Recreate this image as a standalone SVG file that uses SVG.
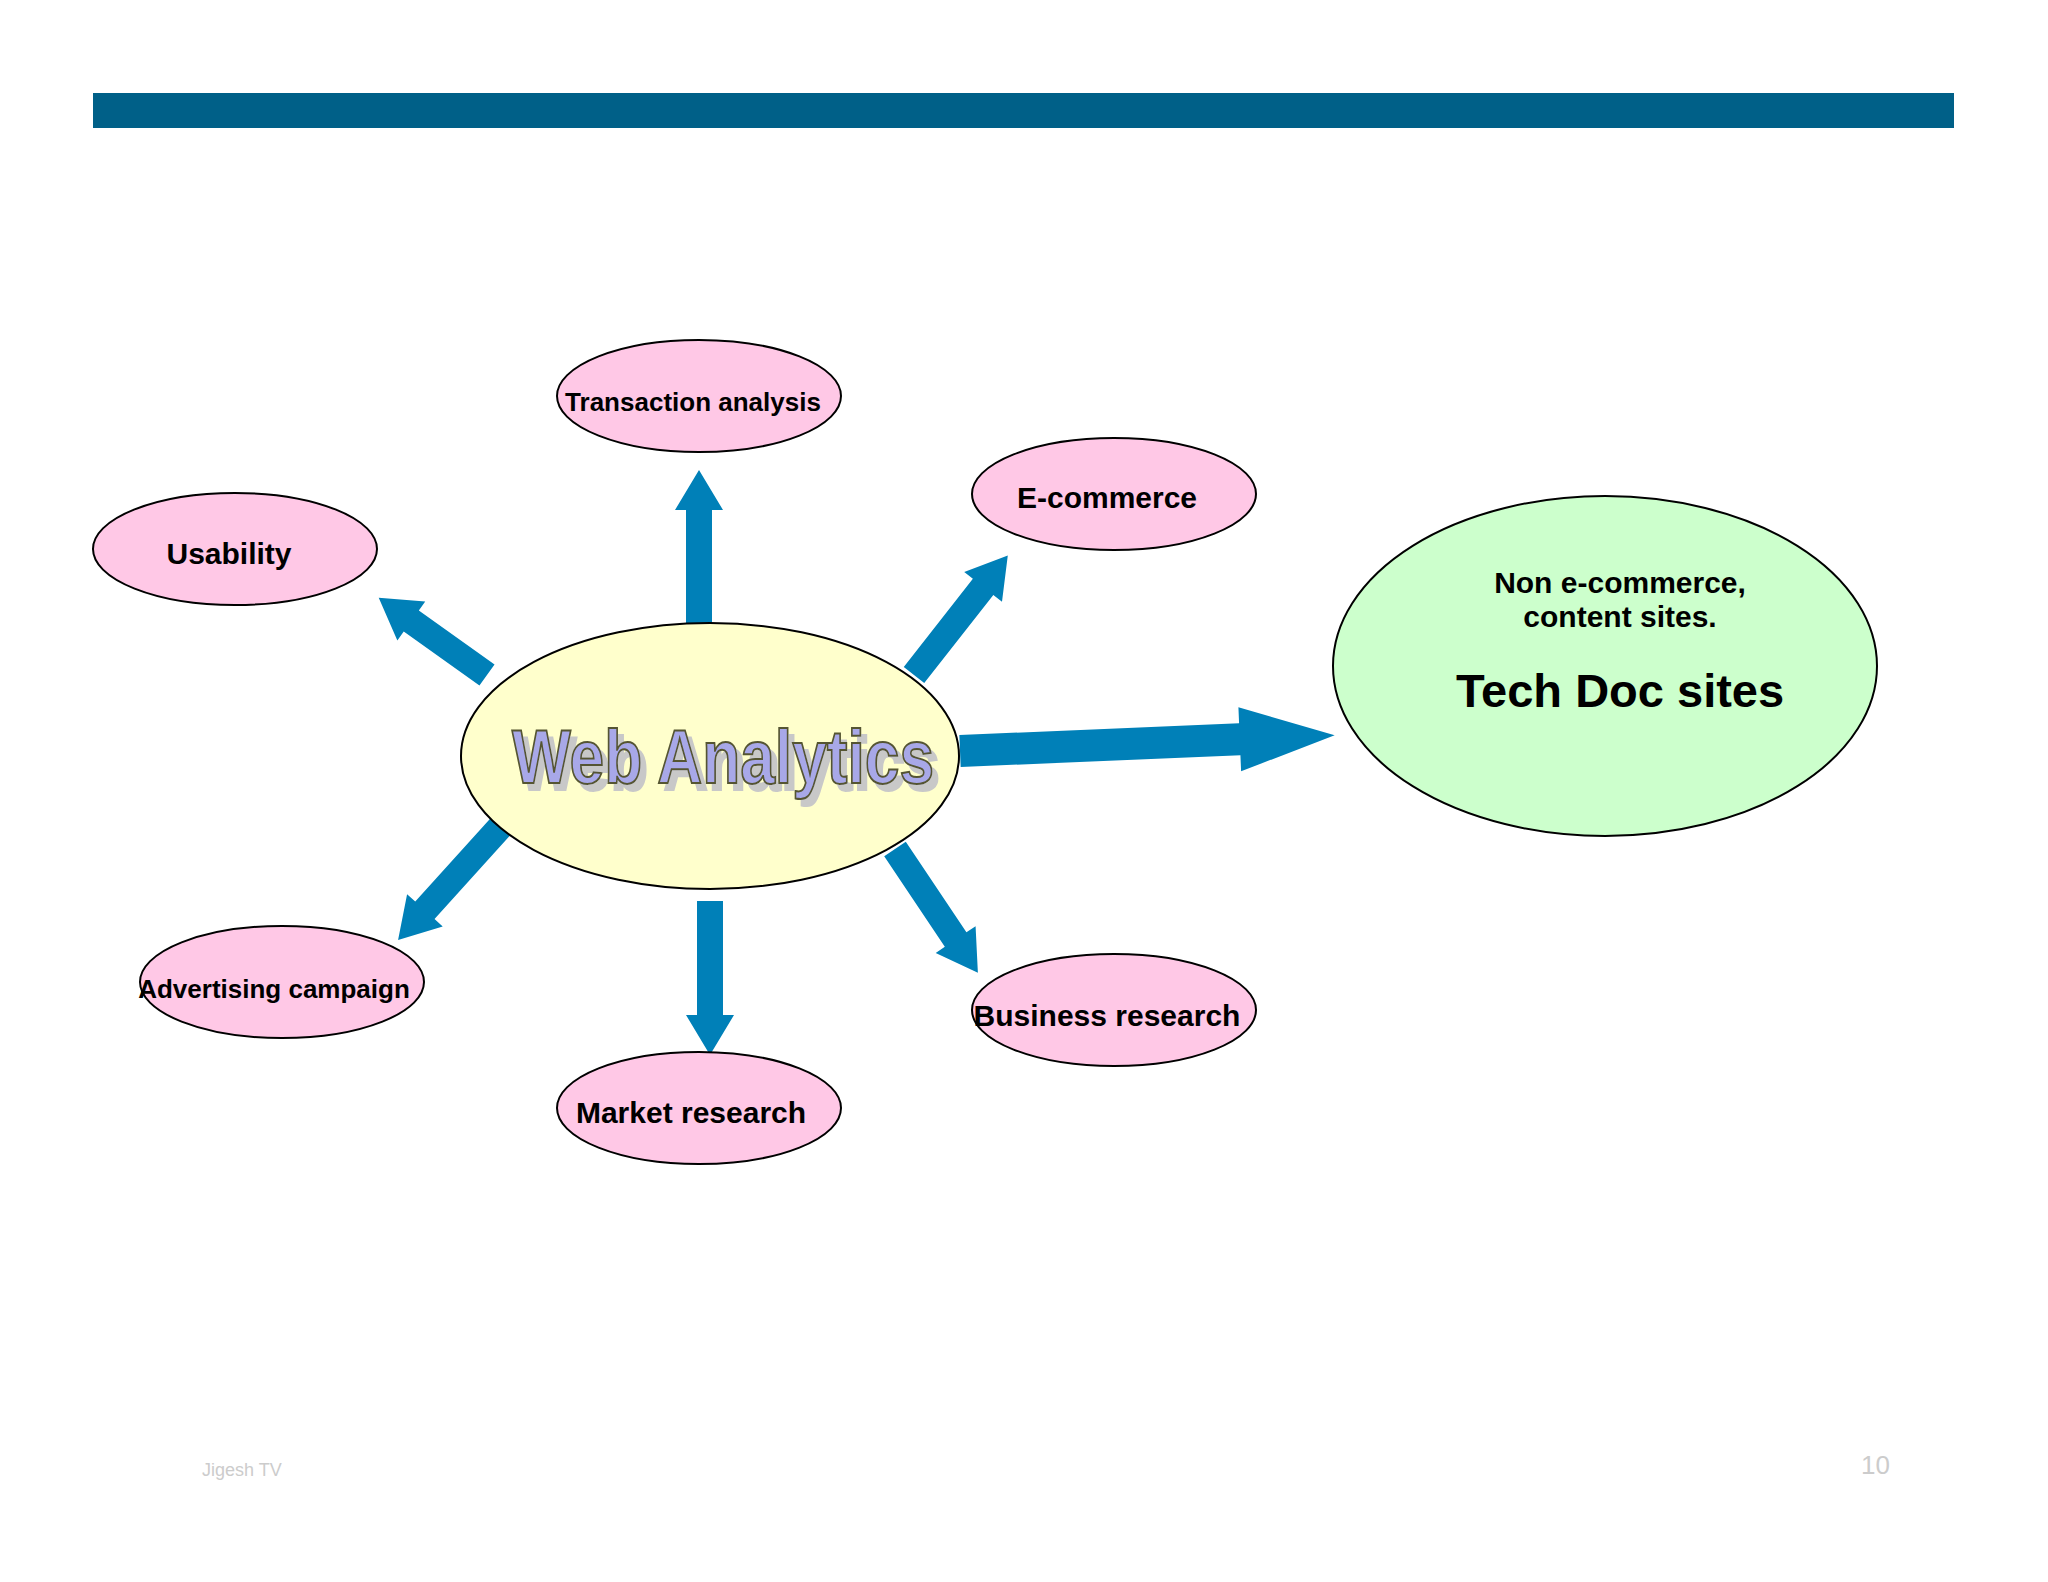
<svg xmlns="http://www.w3.org/2000/svg" width="2048" height="1582" viewBox="0 0 2048 1582">
<style>
.pink{fill:#ffc8e6;stroke:#000;stroke-width:2}
.lbl{font-family:"Liberation Sans",Arial,sans-serif;font-weight:bold;fill:#000;text-anchor:middle}
.arr{fill:#0080b8}
.wa{font-family:"Liberation Sans",Arial,sans-serif;font-weight:bold;font-size:76px}
</style>
<defs>
<filter id="shadow" x="-10%" y="-20%" width="130%" height="160%">
<feOffset in="SourceAlpha" dx="6" dy="7" result="off"/>
<feFlood flood-color="#c8c8c8"/>
<feComposite in2="off" operator="in" result="sh"/>
<feMerge><feMergeNode in="sh"/><feMergeNode in="SourceGraphic"/></feMerge>
</filter>
</defs>
<rect width="2048" height="1582" fill="#fff"/>
<rect x="93" y="93" width="1861" height="35" fill="#006088"/>
<g id="connectors" class="arr">
<g transform="translate(699,624) rotate(-90)"><polygon points="0,-13 114,-13 114,-24 154,0 114,24 114,13 0,13"/></g>
<g transform="translate(914,675) rotate(-51.9)"><polygon points="0,-13 112,-13 112,-24 152,0 112,24 112,13 0,13"/></g>
<g transform="translate(487,675) rotate(-144.5)"><polygon points="0,-13 93,-13 93,-24 133,0 93,24 93,13 0,13"/></g>
<g transform="translate(502,825) rotate(132.1)"><polygon points="0,-13 115,-13 115,-24 155,0 115,24 115,13 0,13"/></g>
<g transform="translate(710,901) rotate(90)"><polygon points="0,-13 114,-13 114,-24 154,0 114,24 114,13 0,13"/></g>
<g transform="translate(895,849) rotate(56.2)"><polygon points="0,-13 109,-13 109,-24 149,0 109,24 109,13 0,13"/></g>
<g transform="translate(960,751) rotate(-2.4)"><polygon points="0,-16 280,-16 280,-32 375,0 280,32 280,16 0,16"/></g>
</g>
<g id="center">
<ellipse cx="710" cy="756" rx="249" ry="133" fill="#ffffcc" stroke="#000" stroke-width="2"/>
<text class="wa" x="512" y="783" textLength="422" lengthAdjust="spacingAndGlyphs" fill="#a8a8e8" stroke="#555533" stroke-width="2" filter="url(#shadow)">Web Analytics</text>
</g>
<g id="transaction"><ellipse class="pink" cx="699" cy="396" rx="142" ry="56"/><text class="lbl" x="693" y="411" font-size="26">Transaction analysis</text></g>
<g id="ecommerce"><ellipse class="pink" cx="1114" cy="494" rx="142" ry="56"/><text class="lbl" x="1107" y="508" font-size="30">E-commerce</text></g>
<g id="usability"><ellipse class="pink" cx="235" cy="549" rx="142" ry="56"/><text class="lbl" x="229" y="564" font-size="30">Usability</text></g>
<g id="advertising"><ellipse class="pink" cx="282" cy="982" rx="142" ry="56"/><text class="lbl" x="274" y="998" font-size="26">Advertising campaign</text></g>
<g id="market"><ellipse class="pink" cx="699" cy="1108" rx="142" ry="56"/><text class="lbl" x="691" y="1123" font-size="30">Market research</text></g>
<g id="business"><ellipse class="pink" cx="1114" cy="1010" rx="142" ry="56"/><text class="lbl" x="1107" y="1026" font-size="30">Business research</text></g>
<g id="techdoc"><ellipse cx="1605" cy="666" rx="272" ry="170" fill="#ccffcc" stroke="#000" stroke-width="2"/>
<text class="lbl" x="1620" y="593" font-size="30">Non e-commerce,</text>
<text class="lbl" x="1620" y="627" font-size="30">content sites.</text>
<text class="lbl" x="1620" y="707" font-size="47">Tech Doc sites</text></g>
<text x="202" y="1476" font-family="Liberation Sans,Arial,sans-serif" font-size="18" fill="#cccccc">Jigesh TV</text>
<text x="1890" y="1474" font-family="Liberation Sans,Arial,sans-serif" font-size="26" fill="#cccccc" text-anchor="end">10</text>
</svg>
